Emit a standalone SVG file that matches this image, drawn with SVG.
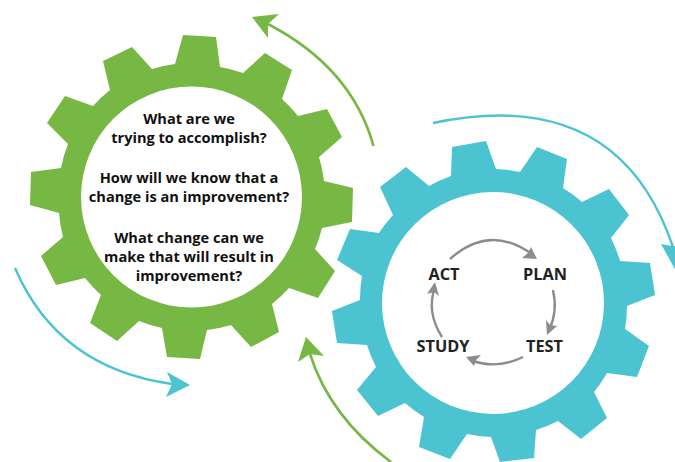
<svg xmlns="http://www.w3.org/2000/svg" width="675" height="462" viewBox="0 0 675 462">
<style>
.green{fill:#76b843}.blue{fill:#4bc3d1}.hole{fill:#fff}
.t{font-family:"Open Sans","Noto Sans",sans-serif;font-weight:700;font-size:14.6px;fill:#111;text-anchor:middle}
.s{font-family:"Open Sans","Noto Sans",sans-serif;font-weight:700;font-size:16.3px;fill:#222;text-anchor:middle}
.lg{fill:none;stroke:#76b843;stroke-width:2.6}.lb{fill:none;stroke:#4bc3d1;stroke-width:2.4}
.lc{fill:none;stroke:#8a8c8f;stroke-width:2.4}.hc{fill:#8a8c8f}
</style>
<g id="gear-green">
<path class="green" d="M183 35L216 37L220 67A133 133 0 0 1 243 73L265 53L292 70L282 99A133 133 0 0 1 298 116L327 109L342 137L319 157A133 133 0 0 1 324 181L353 188L352 222L322 228A133 133 0 0 1 315 249L335 271L318 298L289 288A133 133 0 0 1 272 304L279 332L251 347L231 325A133 133 0 0 1 207 330L200 359L167 357L162 328A133 133 0 0 1 139 321L117 341L90 323L101 295A133 133 0 0 1 85 278L56 285L41 256L63 237A133 133 0 0 1 59 213L30 205L31 172L61 168A133 133 0 0 1 68 144L47 123L65 96L93 106A133 133 0 0 1 110 90L103 61L132 47L152 69A133 133 0 0 1 175 64Z"/>
<circle class="hole" cx="191.5" cy="197" r="110.5"/>
<text class="t" x="189" y="124">What are we</text>
<text class="t" x="189" y="143">trying to accomplish?</text>
<text class="t" x="189" y="182.5">How will we know that a</text>
<text class="t" x="189" y="201.5">change is an improvement?</text>
<text class="t" x="189" y="242.5">What change can we</text>
<text class="t" x="189" y="261.5">make that will result in</text>
<text class="t" x="189" y="280.5">improvement?</text>
</g>
<g id="gear-blue">
<path class="blue" d="M452 147L486 141L496 169A134 134 0 0 1 520 172L537 147L567 159L563 188A134 134 0 0 1 582 202L609 189L629 215L611 238A134 134 0 0 1 620 261L650 263L655 295L627 306A134 134 0 0 1 625 329L649 346L637 377L607 373A134 134 0 0 1 594 392L607 418L581 439L558 421A134 134 0 0 1 536 430L534 458L500 462L491 437A134 134 0 0 1 467 434L450 459L419 447L424 417A134 134 0 0 1 405 403L378 416L357 390L376 367A134 134 0 0 1 367 345L337 343L332 311L360 300A134 134 0 0 1 362 276L337 260L350 229L379 233A134 134 0 0 1 393 215L380 187L406 167L429 186A134 134 0 0 1 451 176Z"/>
<circle class="hole" cx="493" cy="303" r="111"/>
</g>
<g id="act"><text class="s" x="444" y="280">ACT</text></g>
<g id="plan"><text class="s" x="545" y="280">PLAN</text></g>
<g id="test"><text class="s" x="544.5" y="352">TEST</text></g>
<g id="study"><text class="s" x="443" y="352">STUDY</text></g>
<g id="connectors">
<path class="lg" d="M373.5 146Q352 68 268 24"/>
<polygon class="green" points="252,17 279,14 268,24 268,38"/>
<path class="lg" d="M391 462Q330 417 310 354"/>
<polygon class="green" points="306,337 324,356 310,354 298,362"/>
<path class="lb" d="M15 268Q58 368 172 384"/>
<polygon class="blue" points="190,385 167,372 172,384 166,397"/>
<path class="lb" d="M433 123Q618 84 673 247"/>
<polygon class="blue" points="661,244 672,246 676,246 676,271"/>
<path class="lc" d="M450 259Q490 223 533 255"/>
<polygon class="hc" points="537,259 522,258 528,253 531,247"/>
<path class="lc" d="M553 290Q558 312 549 330"/>
<polygon class="hc" points="547,335 546,320 550,325 557,326"/>
<path class="lc" d="M523 357Q497 370 470 360"/>
<polygon class="hc" points="466,357 481,355 476,360 474,366"/>
<path class="lc" d="M442 337Q426 312 435 287"/>
<polygon class="hc" points="435,282 439,296 434,292 427,294"/>
</g>
</svg>
